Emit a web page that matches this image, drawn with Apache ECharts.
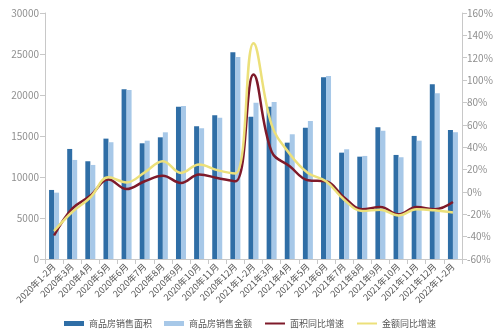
<!DOCTYPE html>
<html>
<head>
<meta charset="utf-8">
<script src="https://cdn.jsdelivr.net/npm/echarts@6/dist/echarts.min.js"></script>
<style>
  html, body { margin: 0; padding: 0; background: #fff; }
  #chart { width: 500px; height: 336px; }
</style>
</head>
<body>
<div id="chart"></div>
<script>
const months = [
  '2020年1-2月', '2020年3月', '2020年4月', '2020年5月', '2020年6月', '2020年7月',
  '2020年8月', '2020年9月', '2020年10月', '2020年11月', '2020年12月',
  '2021年1-2月', '2021年3月', '2021年4月', '2021年5月', '2021年6月', '2021年7月',
  '2021年8月', '2021年9月', '2021年10月', '2021年11月', '2021年12月', '2022年1-2月',
]
// 商品房销售面积 (万平方米)
const areaSales = [8420, 13420, 11920, 14680, 20700, 14110, 14840, 18580, 16190, 17530, 25220,
  17360, 18580, 14190, 16020, 22170, 12970, 12480, 16070, 12690, 15010, 21310, 15740]
// 商品房销售金额 (亿元)
const amountSales = [8090, 12080, 11470, 14240, 20620, 14430, 15450, 18670, 15950, 17240, 24640,
  19070, 19150, 15210, 16840, 22330, 13380, 12570, 15650, 12410, 14430, 20210, 15460]
// 同比增速 (%)
const areaYoY = [-39, -15, -3.5, 11, 2.5, 9.5, 14.5, 8, 15.5, 12.5, 9.5,
  105, 36, 23, 10.5, 9.5, -5, -15.5, -13.5, -20, -13.5, -15.5, -9]
const amountYoY = [-35, -18, -5, 13, 8.5, 17.5, 27.5, 17, 24.5, 19.5, 16.5,
  133, 60, 34, 17, 9.5, -7, -17, -16, -21, -15.5, -16.5, -18.5]

const FONT = '"Noto Sans CJK SC", "Noto Sans", sans-serif'
const AXIS_GREY = '#c8c8c8'
const LABEL_GREY = '#8f8f8f'

const chart = echarts.init(document.getElementById('chart'))
chart.setOption({
  animation: false,
  textStyle: { fontFamily: FONT },
  grid: { left: 45, right: 38, top: 13, bottom: 77 },
  legend: {
    bottom: 3,
    left: 'center',
    itemGap: 12,
    itemWidth: 20,
    itemHeight: 5,
    textStyle: { fontSize: 9, color: '#555', fontFamily: FONT },
    data: [
      { name: '商品房销售面积', icon: 'rect' },
      { name: '商品房销售金额', icon: 'rect' },
      { name: '面积同比增速', itemStyle: { opacity: 0 } },
      { name: '金额同比增速', itemStyle: { opacity: 0 } },
    ],
  },
  xAxis: {
    type: 'category',
    data: months,
    axisLine: { lineStyle: { color: AXIS_GREY } },
    axisTick: { show: true, lineStyle: { color: AXIS_GREY } },
    axisLabel: { rotate: 45, interval: 0, fontSize: 9, color: '#555', margin: 6 },
  },
  yAxis: [
    {
      type: 'value', min: 0, max: 30000, interval: 5000,
      axisLine: { show: true, lineStyle: { color: AXIS_GREY } },
      axisTick: { show: true, lineStyle: { color: AXIS_GREY } },
      splitLine: { show: false },
      axisLabel: { fontSize: 10, color: LABEL_GREY, margin: 6, formatter: (v) => String(v) },
    },
    {
      type: 'value', min: -60, max: 160, interval: 20, position: 'right',
      axisLine: { show: true, lineStyle: { color: AXIS_GREY } },
      axisTick: { show: true, lineStyle: { color: AXIS_GREY } },
      splitLine: { show: false },
      axisLabel: { fontSize: 10, color: LABEL_GREY, margin: 5, formatter: '{value}%' },
    },
  ],
  series: [
    {
      name: '商品房销售面积', type: 'bar', yAxisIndex: 0, data: areaSales,
      barWidth: 5, barGap: '0%',
      itemStyle: { color: '#2f6ea6' },
    },
    {
      name: '商品房销售金额', type: 'bar', yAxisIndex: 0, data: amountSales,
      barWidth: 5,
      itemStyle: { color: '#a7c8e8' },
    },
    {
      name: '面积同比增速', type: 'line', yAxisIndex: 1, data: areaYoY,
      smooth: 0.4, symbol: 'none',
      lineStyle: { width: 2.5, color: '#7e1a2a' },
      itemStyle: { color: '#7e1a2a' },
    },
    {
      name: '金额同比增速', type: 'line', yAxisIndex: 1, data: amountYoY,
      smooth: 0.4, symbol: 'none',
      lineStyle: { width: 2.5, color: '#ece07a' },
      itemStyle: { color: '#ece07a' },
    },
  ],
})
</script>
</body>
</html>
